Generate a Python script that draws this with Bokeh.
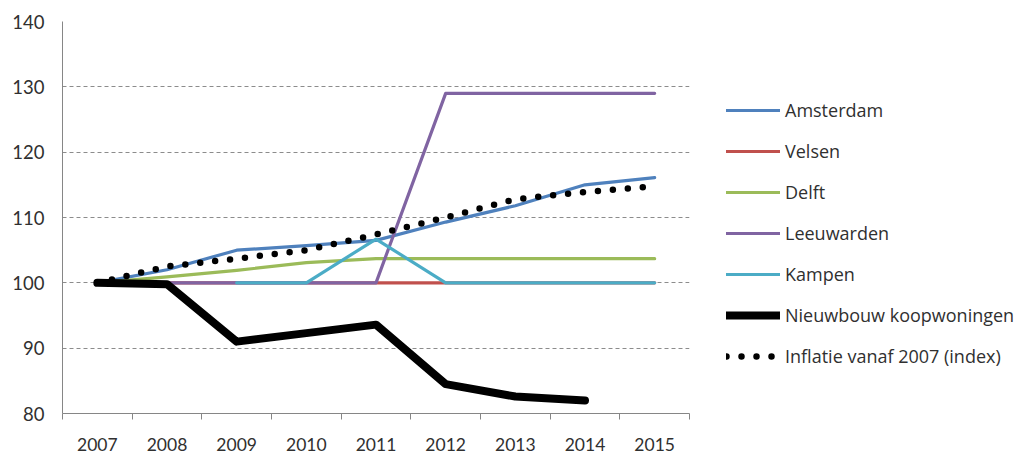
import numpy as np
from bokeh.plotting import figure
from bokeh.models import Range1d, FixedTicker, Legend, LegendItem, ColumnDataSource
from bokeh.embed import file_html
from bokeh.resources import INLINE

years = ["2007", "2008", "2009", "2010", "2011", "2012", "2013", "2014", "2015"]

amsterdam = [100, 102, 105, 105.7, 106.5, 109.3, 111.8, 115, 116.1]
velsen = [100, 100, 100, 100, 100, 100, 100, 100, 100]
delft = [100, 100.9, 101.9, 103.1, 103.7, 103.7, 103.7, 103.7, 103.7]
leeuwarden = [100, 100, 100, 100, 100, 129, 129, 129, 129]
kampen = [np.nan, np.nan, 100, 100, 106.7, 100, 100, 100, 100]
nieuwbouw = [100, 99.8, 91, 92.3, 93.6, 84.5, 82.6, 82.0, np.nan]
inflatie = [100, 102.5, 103.7, 105.0, 107.4, 110.0, 112.8, 113.9, 114.8]

FONT = "Lato"
TXT = "#303030"
AXC = "#868686"

# category centres on a numeric axis so ticks can sit between the years
xc = [i + 0.5 for i in range(len(years))]

p = figure(frame_width=627, frame_height=392, output_backend="svg", toolbar_location=None,
           x_range=Range1d(0, len(years)), y_range=Range1d(80, 140),
           min_border_left=62, min_border_right=318, min_border_top=21,
           min_border_bottom=40)
p.outline_line_color = None
p.background_fill_color = "white"

series = [
    ("Amsterdam", amsterdam, "#4F81BD", 3.2, None),
    ("Velsen", velsen, "#C0504D", 3.2, None),
    ("Delft", delft, "#9BBB59", 3.2, None),
    ("Leeuwarden", leeuwarden, "#8064A2", 3.2, None),
    ("Kampen", kampen, "#4BACC6", 3.2, None),
    ("Nieuwbouw koopwoningen", nieuwbouw, "black", 8, None),
    ("Inflatie vanaf 2007 (index)", inflatie, "black", 6.5, "0 15"),
]

items = []
for name, vals, color, w, dash in series:
    src = ColumnDataSource(dict(x=xc, y=vals))
    if dash:
        r = p.line("x", "y", source=src, line_color=color, line_width=w,
                   line_dash=dash, line_cap="round")
    else:
        r = p.line("x", "y", source=src, line_color=color, line_width=w,
                   line_cap="round", line_join="round")
    items.append(LegendItem(label=name, renderers=[r]))

# x axis: labels at centres, ticks at the category borders
xa = p.xaxis[0]
xa.ticker = FixedTicker(ticks=xc, minor_ticks=list(range(len(years) + 1)))
xa.major_label_overrides = {c: y for c, y in zip(xc, years)}
xa.major_tick_out = 0
xa.major_tick_in = 0
xa.minor_tick_out = 6
xa.minor_tick_in = 0
xa.minor_tick_line_color = AXC
xa.axis_line_color = AXC
xa.major_label_standoff = 18
xa.major_label_text_font = FONT
xa.major_label_text_font_size = "17.5px"
xa.major_label_text_color = TXT

ya = p.yaxis[0]
ya.ticker = FixedTicker(ticks=[80, 90, 100, 110, 120, 130, 140])
ya.major_tick_out = 0
ya.major_tick_in = 0
ya.minor_tick_line_color = None
ya.axis_line_color = AXC
ya.major_label_standoff = 18
ya.major_label_text_font = FONT
ya.major_label_text_font_size = "18.5px"
ya.major_label_text_color = TXT

p.xgrid.grid_line_color = None
p.ygrid.grid_line_color = "#8c8c8c"
p.ygrid.grid_line_dash = "4 3"
p.ygrid.grid_line_width = 1

legend = Legend(items=items, location=(37, 45))
legend.border_line_color = None
legend.background_fill_alpha = 0
legend.padding = 0
legend.margin = 0
legend.glyph_width = 54
legend.glyph_height = 20
legend.label_height = 20
legend.spacing = 17
legend.label_standoff = 5
legend.label_text_font = "Open Sans"
legend.label_text_font_size = "18px"
legend.label_text_color = TXT
p.add_layout(legend, "right")

open("out.html", "w").write(file_html(p, INLINE))
